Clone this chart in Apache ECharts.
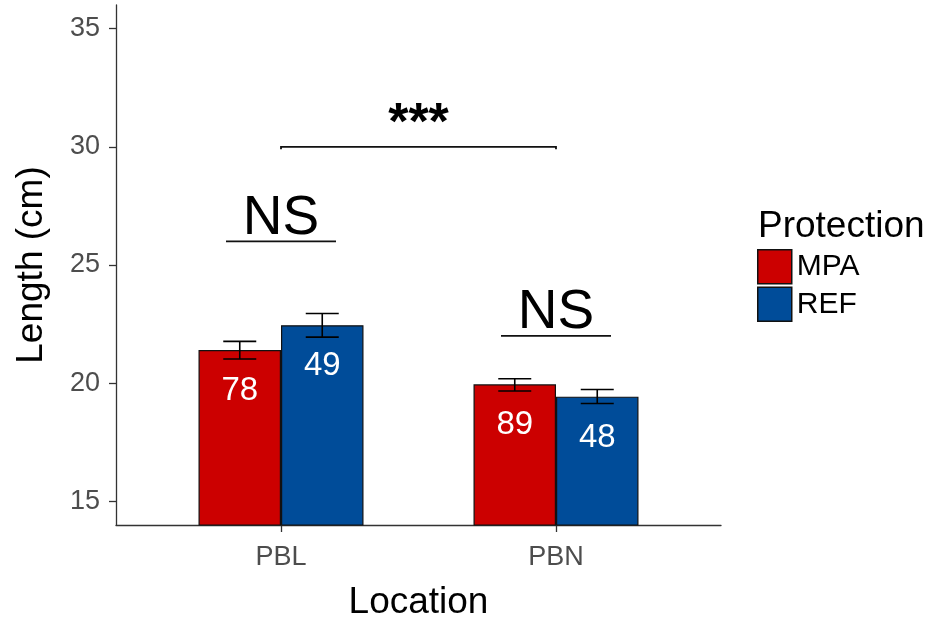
<!DOCTYPE html>
<html><head><meta charset="utf-8">
<script src="https://cdn.jsdelivr.net/npm/echarts@6/dist/echarts.min.js"></script>
<style>html,body{margin:0;padding:0;background:#fff}#c{width:934px;height:619px}</style>
</head><body><div id="c"></div>
<script>
// ---- data ----
const categories = ['PBL', 'PBN'];
const groups = ['MPA', 'REF'];
const mpaMean = [21.40, 19.95];
const mpaLow  = [21.02, 19.67];
const mpaHigh = [21.77, 20.19];
const refMean = [22.45, 19.43];
const refLow  = [21.95, 19.14];
const refHigh = [22.95, 19.73];
const mpaCount = [78, 89];
const refCount = [49, 48];
const yTicks = [15, 20, 25, 30, 35];
const nsLabels = ['NS', 'NS'];
const nsY = [26, 22];
const bracketFrom = 'PBL', bracketTo = 'PBN';
const bracketY = 30;
const bracketLabel = '***';

// ---- styles ----
const FONT = "'Liberation Sans', Arial, sans-serif";
const colors = { MPA: '#CC0000', REF: '#004C99' };
const dodge = { MPA: -0.15, REF: 0.15 };

const chart = echarts.init(document.getElementById('c'), null, { renderer: 'canvas' });

function barSeries(name, mean) {
  return {
    name, type: 'bar', barWidth: '30%', barGap: '0%', clip: true,
    itemStyle: { color: colors[name], borderColor: '#111', borderWidth: 1.2 },
    data: categories.map((c, i) => [i + 1, mean[i]]),
    z: 2
  };
}
function errSeries(name, low, high) {
  return {
    name: name + '_err', type: 'custom', z: 5, silent: true,
    encode: { x: 0, y: [1, 2] },
    data: categories.map((c, i) => [i + 1, low[i], high[i]]),
    renderItem(params, api) {
      const x = api.value(0) + dodge[name];
      const lo = api.coord([x, api.value(1)]);
      const hi = api.coord([x, api.value(2)]);
      const hw = api.coord([x + 0.06, api.value(1)])[0] - lo[0];
      const st = { stroke: '#000', lineWidth: 1.6 };
      return { type: 'group', children: [
        { type: 'line', shape: { x1: lo[0], y1: lo[1], x2: hi[0], y2: hi[1] }, style: st },
        { type: 'line', shape: { x1: lo[0] - hw, y1: lo[1], x2: lo[0] + hw, y2: lo[1] }, style: st },
        { type: 'line', shape: { x1: hi[0] - hw, y1: hi[1], x2: hi[0] + hw, y2: hi[1] }, style: st }
      ]};
    }
  };
}
function countSeries(name, mean, count) {
  return {
    name: name + '_n', type: 'custom', z: 6, silent: true,
    encode: { x: 0, y: 1 },
    data: categories.map((c, i) => [i + 1, mean[i], count[i]]),
    renderItem(params, api) {
      const p = api.coord([api.value(0) + dodge[name], api.value(1)]);
      return { type: 'text', x: p[0], y: p[1] + 41, style: {
        text: String(api.value(2)), fill: '#fff', fontSize: 33, fontFamily: FONT,
        align: 'center', verticalAlign: 'middle' } };
    }
  };
}

const option = {
  animation: false,
  backgroundColor: '#fff',
  grid: { left: 116, right: 213, top: 5, bottom: 94, containLabel: false, outerBoundsMode: 'none' },
  xAxis: {
    type: 'value', min: 0.4, max: 2.6,
    name: 'Location', nameLocation: 'middle', nameGap: 59,
    nameTextStyle: { fontSize: 37, color: '#000', fontFamily: FONT },
    axisLine: { show: true, lineStyle: { color: '#333', width: 1.3 } },
    axisTick: { show: true, length: 7, customValues: [1, 2], lineStyle: { color: '#333', width: 1.3 } },
    axisLabel: { show: true, customValues: [1, 2], margin: 19, fontSize: 27, color: '#4D4D4D', fontFamily: FONT,
      formatter: v => categories[Math.round(v) - 1] || '' },
    splitLine: { show: false }
  },
  yAxis: {
    type: 'value', min: 14, max: 36,
    name: 'Length (cm)', nameLocation: 'middle', nameGap: 66,
    nameTextStyle: { fontSize: 37, color: '#000', fontFamily: FONT },
    axisLine: { show: true, lineStyle: { color: '#333', width: 1.3 } },
    axisTick: { show: true, length: 7, customValues: yTicks, lineStyle: { color: '#333', width: 1.3 } },
    axisLabel: { show: true, customValues: yTicks, margin: 16, fontSize: 27, color: '#4D4D4D', fontFamily: FONT },
    splitLine: { show: false }
  },
  legend: {
    orient: 'vertical', left: 757, top: 249, padding: 0, itemWidth: 34, itemHeight: 34, itemGap: 2,
    data: groups.map(g => ({ name: g, icon: 'rect' })),
    itemStyle: { borderColor: '#111', borderWidth: 1.5 },
    textStyle: { fontSize: 30, color: '#000', fontFamily: FONT }
  },
  graphic: [{
    type: 'text', left: 758, top: 208,
    style: { text: 'Protection', fontSize: 37, fill: '#000', fontFamily: FONT }
  }],
  series: [
    barSeries('MPA', mpaMean),
    barSeries('REF', refMean),
    errSeries('MPA', mpaLow, mpaHigh),
    errSeries('REF', refLow, refHigh),
    countSeries('MPA', mpaMean, mpaCount),
    countSeries('REF', refMean, refCount),
    {
      name: 'ns', type: 'custom', z: 6, silent: true,
      encode: { x: 0, y: 1 },
      data: nsLabels.map((t, i) => [i + 1, nsY[i], t]),
      renderItem(params, api) {
        const x = api.value(0);
        const a = api.coord([x - 0.2, api.value(1)]);
        const b = api.coord([x + 0.2, api.value(1)]);
        return { type: 'group', children: [
          { type: 'line', shape: { x1: a[0], y1: a[1], x2: b[0], y2: b[1] }, style: { stroke: '#111', lineWidth: 1.8 } },
          { type: 'text', x: (a[0] + b[0]) / 2, y: a[1] - 23, style: {
            text: api.value(2), fill: '#000', fontSize: 55, fontFamily: FONT, align: 'center', verticalAlign: 'middle' } }
        ]};
      }
    },
    {
      name: 'bracket', type: 'custom', z: 6, silent: true,
      encode: { x: 0, y: 2 },
      data: [[categories.indexOf(bracketFrom) + 1, categories.indexOf(bracketTo) + 1, bracketY, bracketLabel]],
      renderItem(params, api) {
        const y = api.value(2);
        const a = api.coord([api.value(0), y]);
        const b = api.coord([api.value(1), y]);
        const at = api.coord([api.value(0), y - 0.1]);
        return { type: 'group', children: [
          { type: 'polyline', shape: { points: [[a[0], at[1]], a, b, [b[0], at[1]]] }, style: { stroke: '#111', lineWidth: 1.8, fill: null } },
          { type: 'text', x: (a[0] + b[0]) / 2, y: a[1] - 22, style: {
            text: api.value(3), fill: '#000', fontSize: 52, fontWeight: 'bold', fontFamily: FONT, align: 'center', verticalAlign: 'middle' } }
        ]};
      }
    }
  ]
};
chart.setOption(option);
</script>
</body></html>
